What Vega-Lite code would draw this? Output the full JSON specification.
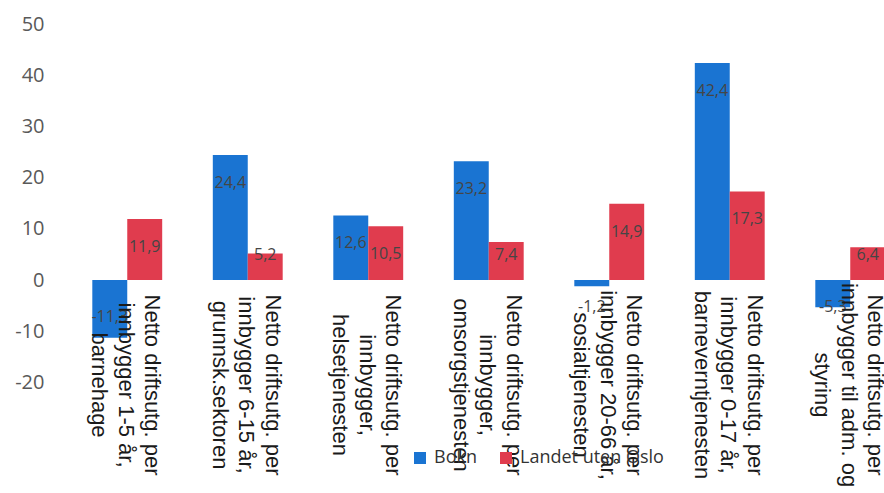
{
  "$schema": "https://vega.github.io/schema/vega-lite/v6.json",
  "autosize": {"type": "none"},
  "width": 817,
  "height": 358.4,
  "padding": {"left": 67, "top": 24, "right": 0, "bottom": 110.6},
  "background": "white",
  "config": {
    "view": {"stroke": null},
    "locale": {"number": {"decimal": ",", "thousands": " ", "grouping": [3], "currency": ["", " kr"], "minus": "-"}},
    "axisY": {"title": null, "values": [-20, -10, 0, 10, 20, 30, 40, 50], "ticks": false, "domain": false, "grid": false, "labelFont": "Open Sans", "labelFontSize": 20, "labelColor": "#595959", "labelPadding": 23, "format": "d"}
  },
  "data": {"values": [
    {"kategori": "Netto driftsutg. per\ninnbygger 1-5 år,\nbarnehage", "serie": "Bokn", "value": -11.3},
    {"kategori": "Netto driftsutg. per\ninnbygger 1-5 år,\nbarnehage", "serie": "Landet uten Oslo", "value": 11.9},
    {"kategori": "Netto driftsutg. per\ninnbygger 6-15 år,\ngrunnsk.sektoren", "serie": "Bokn", "value": 24.4},
    {"kategori": "Netto driftsutg. per\ninnbygger 6-15 år,\ngrunnsk.sektoren", "serie": "Landet uten Oslo", "value": 5.2},
    {"kategori": "Netto driftsutg. per\ninnbygger,\nhelsetjenesten", "serie": "Bokn", "value": 12.6},
    {"kategori": "Netto driftsutg. per\ninnbygger,\nhelsetjenesten", "serie": "Landet uten Oslo", "value": 10.5},
    {"kategori": "Netto driftsutg. per\ninnbygger,\nomsorgstjenesten", "serie": "Bokn", "value": 23.2},
    {"kategori": "Netto driftsutg. per\ninnbygger,\nomsorgstjenesten", "serie": "Landet uten Oslo", "value": 7.4},
    {"kategori": "Netto driftsutg. per\ninnbygger 20-66 år,\nsosialtjenesten", "serie": "Bokn", "value": -1.2},
    {"kategori": "Netto driftsutg. per\ninnbygger 20-66 år,\nsosialtjenesten", "serie": "Landet uten Oslo", "value": 14.9},
    {"kategori": "Netto driftsutg. per\ninnbygger 0-17 år,\nbarneverntjenesten", "serie": "Bokn", "value": 42.4},
    {"kategori": "Netto driftsutg. per\ninnbygger 0-17 år,\nbarneverntjenesten", "serie": "Landet uten Oslo", "value": 17.3},
    {"kategori": "Netto driftsutg. per\ninnbygger til adm. og\nstyring", "serie": "Bokn", "value": -5.3},
    {"kategori": "Netto driftsutg. per\ninnbygger til adm. og\nstyring", "serie": "Landet uten Oslo", "value": 6.4}
  ]},
  "encoding": {
    "x": {"field": "kategori", "type": "nominal", "sort": null, "axis": null,
          "scale": {"range": [0, 843.5], "paddingInner": 0.42, "paddingOuter": 0.21}}
  },
  "layer": [
    {
      "mark": {"type": "bar", "clip": true},
      "encoding": {
        "xOffset": {"field": "serie", "type": "nominal", "scale": {"paddingInner": 0, "paddingOuter": 0}},
        "y": {"field": "value", "type": "quantitative", "scale": {"domain": [-20, 50], "nice": false}},
        "color": {"field": "serie", "type": "nominal",
                  "scale": {"domain": ["Bokn", "Landet uten Oslo"], "range": ["#1a74d2", "#e03c4e"]},
                  "legend": {"orient": "none", "legendX": 344, "legendY": 425, "direction": "horizontal", "title": null,
                             "symbolType": "square", "symbolSize": 144, "symbolStrokeWidth": 0,
                             "labelFont": "Open Sans", "labelFontSize": 18, "labelColor": "#333333",
                             "columnPadding": 20, "labelOffset": 5, "padding": 0,
                             "encode": {"symbols": {"update": {"fill": {"signal": "datum.value === 'Bokn' ? '#3383c4' : '#c4505c'"}}}}}}
      }
    },
    {
      "transform": [{"filter": "datum.value >= 10"}],
      "mark": {"type": "text", "dy": 28, "baseline": "middle", "align": "center", "font": "Open Sans", "fontSize": 16, "color": "#454545"},
      "encoding": {
        "xOffset": {"field": "serie", "type": "nominal"},
        "y": {"field": "value", "type": "quantitative"},
        "text": {"field": "value", "type": "quantitative", "format": ".1f"}
      }
    },
    {
      "transform": [{"filter": "datum.value > 0 && datum.value < 10"}],
      "mark": {"type": "text", "dy": -25, "baseline": "middle", "align": "center", "font": "Open Sans", "fontSize": 16, "color": "#454545"},
      "encoding": {
        "xOffset": {"field": "serie", "type": "nominal"},
        "y": {"datum": 0, "type": "quantitative"},
        "text": {"field": "value", "type": "quantitative", "format": ".1f"}
      }
    },
    {
      "transform": [{"filter": "datum.value <= -10"}],
      "mark": {"type": "text", "dy": -21, "baseline": "middle", "align": "center", "font": "Open Sans", "fontSize": 16, "color": "#454545"},
      "encoding": {
        "xOffset": {"field": "serie", "type": "nominal"},
        "y": {"field": "value", "type": "quantitative"},
        "text": {"field": "value", "type": "quantitative", "format": ".1f"}
      }
    },
    {
      "transform": [{"filter": "datum.value < 0 && datum.value > -10"}],
      "mark": {"type": "text", "dy": 27, "baseline": "middle", "align": "center", "font": "Open Sans", "fontSize": 16, "color": "#454545"},
      "encoding": {
        "xOffset": {"field": "serie", "type": "nominal"},
        "y": {"datum": 0, "type": "quantitative"},
        "text": {"field": "value", "type": "quantitative", "format": ".1f"}
      }
    },
    {
      "transform": [{"filter": "datum.serie == 'Bokn'"}],
      "mark": {"type": "text", "angle": 90, "align": "center", "baseline": "middle", "dx": 105, "dy": -25,
               "lineBreak": "\n", "lineHeight": 26.5, "font": "Liberation Sans", "fontSize": 22, "color": "#1a1a1a"},
      "encoding": {
        "y": {"datum": 0, "type": "quantitative"},
        "text": {"field": "kategori", "type": "nominal"}
      }
    }
  ]
}
